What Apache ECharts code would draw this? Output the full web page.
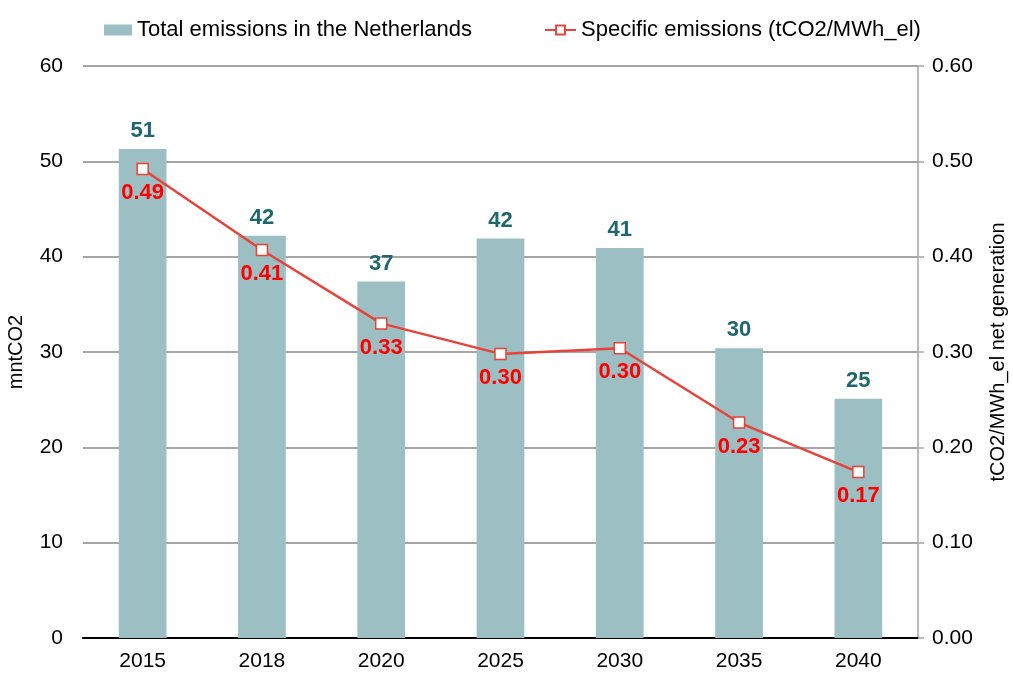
<!DOCTYPE html>
<html>
<head>
<meta charset="utf-8">
<script src="https://cdn.jsdelivr.net/npm/echarts@6/dist/echarts.min.js"></script>
<style>
html,body{margin:0;padding:0;background:#fff;}
#chart{width:1013px;height:675px;}
</style>
</head>
<body>
<div id="chart"></div>
<script>
// data
var years = ['2015', '2018', '2020', '2025', '2030', '2035', '2040'];
var totalEmissions = [51.3, 42.2, 37.4, 41.9, 40.9, 30.4, 25.1];
var specificEmissions = [0.492, 0.407, 0.330, 0.298, 0.304, 0.226, 0.174];
var leftTicks = [0, 60, 10];
var rightTicks = [0, 0.6, 0.1];

var font = 'Liberation Sans, Arial, sans-serif';
var barName = 'Total emissions in the Netherlands';
var lineName = 'Specific emissions (tCO2/MWh_el)';
var legendText = { fontSize: 22, color: '#000', fontFamily: font };

var chart = echarts.init(document.getElementById('chart'));
chart.setOption({
    animation: false,
    textStyle: { fontFamily: font },
    legend: [{
        left: 99, top: 14,
        itemWidth: 28, itemHeight: 11, itemGap: 0,
        textStyle: legendText,
        data: [{ name: barName, icon: 'rect' }]
    }, {
        left: 539, top: 14,
        itemWidth: 31, itemHeight: 11, itemGap: 0,
        textStyle: legendText,
        data: [{ name: lineName }]
    }],
    grid: { left: 83, right: 95, top: 66, bottom: 37, outerBoundsMode: 'none' },
    xAxis: {
        type: 'category',
        data: years,
        axisLine: { lineStyle: { color: '#000', width: 2 } },
        axisTick: { length: 7, lineStyle: { color: '#000', width: 2 } },
        axisLabel: { fontSize: 21, color: '#000', margin: 13 }
    },
    yAxis: [{
        type: 'value',
        min: leftTicks[0], max: leftTicks[1], interval: leftTicks[2],
        name: 'mntCO2',
        nameLocation: 'middle',
        nameGap: 57,
        nameTextStyle: { fontSize: 20, color: '#000' },
        axisLine: { show: false },
        axisTick: { show: false },
        axisLabel: { fontSize: 21, color: '#000', margin: 20 },
        splitLine: { lineStyle: { color: '#a6a6a6', width: 2 } }
    }, {
        type: 'value',
        min: rightTicks[0], max: rightTicks[1], interval: rightTicks[2],
        name: 'tCO2/MWh_el net generation',
        nameLocation: 'middle',
        nameGap: 70,
        nameRotate: 90,
        nameTextStyle: { fontSize: 20, color: '#000' },
        axisLine: { show: true, lineStyle: { color: '#a6a6a6', width: 1.5 } },
        axisTick: { show: true, length: 6, lineStyle: { color: '#a6a6a6', width: 1.5 } },
        axisLabel: {
            fontSize: 21, color: '#000', margin: 14,
            formatter: function (v) { return v.toFixed(2); }
        },
        splitLine: { show: false }
    }],
    series: [{
        name: barName,
        type: 'bar',
        data: totalEmissions,
        barWidth: '40%',
        itemStyle: { color: '#9bbfc2' },
        label: {
            show: true,
            position: 'top',
            distance: 7,
            fontSize: 22,
            fontWeight: 'bold',
            color: '#1f6670',
            formatter: function (p) { return Math.round(p.value); }
        }
    }, {
        name: lineName,
        type: 'line',
        yAxisIndex: 1,
        data: specificEmissions,
        symbol: 'rect',
        symbolSize: 11,
        lineStyle: { color: '#e8433b', width: 2.5 },
        itemStyle: { color: '#fff', borderColor: '#e8433b', borderWidth: 1.5 },
        label: {
            show: true,
            position: 'bottom',
            distance: 7,
            fontSize: 22,
            fontWeight: 'bold',
            color: '#ff0000',
            formatter: function (p) { return p.value.toFixed(2); }
        },
        z: 5
    }]
});
</script>
</body>
</html>
